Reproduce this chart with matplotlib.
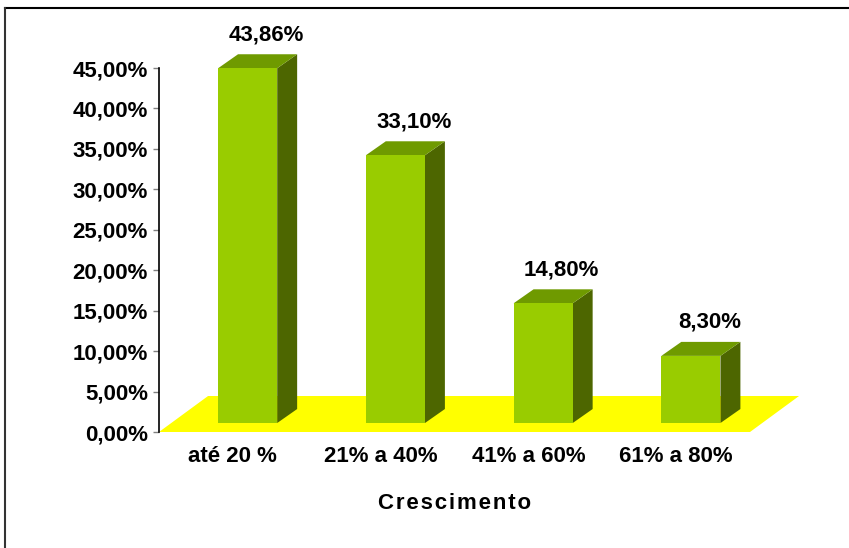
import matplotlib.pyplot as plt
from matplotlib.patches import Polygon
from matplotlib.lines import Line2D

plt.rcParams['font.family'] = ['Liberation Sans', 'DejaVu Sans']
plt.rcParams['font.weight'] = 'bold'

categories = ['até 20 %', '21% a 40%', '41% a 60%', '61% a 80%']
values = [43.86, 33.10, 14.80, 8.30]
value_labels = ['43,86%', '33,10%', '14,80%', '8,30%']
yticks = [0, 5, 10, 15, 20, 25, 30, 35, 40, 45]

W, H = 849, 548
fig = plt.figure(figsize=(W / 100, H / 100), dpi=100)

# plot area in pixels: y axis at x=159, zero at y=432, 45% at y=68
ax_left, ax_right, ax_top, ax_bottom = 159, 750, 68, 432
ax = fig.add_axes([ax_left / W, (H - ax_bottom) / H,
                   (ax_right - ax_left) / W, (ax_bottom - ax_top) / H])
ax.set_xlim(0, len(categories))
ax.set_ylim(0, 45)

# depth offsets of the 3D look (data units)
floor_dx, floor_dy = 0.332, 4.45
bar_dx, bar_dy = 0.135, 1.73
bar_w = 0.40
bar_off = 0.40
bar_base = 1.11

front_c = '#99CC00'
top_c = '#6F9A00'
side_c = '#4D6600'
fs = 16

# yellow floor
n = len(categories)
ax.add_patch(Polygon([(0, 0), (n, 0), (n + floor_dx, floor_dy), (floor_dx, floor_dy)],
                     closed=True, facecolor='#FFFF00', edgecolor='none',
                     clip_on=False, zorder=1))

for i, (v, lab) in enumerate(zip(values, value_labels)):
    x0 = i + bar_off
    x1 = x0 + bar_w
    y0 = bar_base
    y1 = bar_base + v
    # side face
    ax.add_patch(Polygon([(x1, y0), (x1 + bar_dx, y0 + bar_dy),
                          (x1 + bar_dx, y1 + bar_dy), (x1, y1)],
                         closed=True, facecolor=side_c, edgecolor='none',
                         clip_on=False, zorder=2))
    # top face
    ax.add_patch(Polygon([(x0, y1), (x1, y1), (x1 + bar_dx, y1 + bar_dy),
                          (x0 + bar_dx, y1 + bar_dy)],
                         closed=True, facecolor=top_c, edgecolor='none',
                         clip_on=False, zorder=2))
    # front face
    ax.add_patch(Polygon([(x0, y0), (x1, y0), (x1, y1), (x0, y1)],
                         closed=True, facecolor=front_c, edgecolor='none',
                         clip_on=False, zorder=3))
    ax.text(x0 + bar_w / 2 + 0.125, y1 + bar_dy + 2.4, lab,
            ha='center', va='center', fontsize=fs, fontweight='bold',
            clip_on=False, zorder=4)

# axes styling
for s in ['top', 'right', 'bottom']:
    ax.spines[s].set_visible(False)
ax.spines['left'].set_color('black')
ax.spines['left'].set_linewidth(1.2)
ax.set_yticks(yticks)
ax.set_yticklabels([f'{t:.2f}'.replace('.', ',') + '%' for t in yticks])
ax.tick_params(axis='y', direction='out', length=4, width=1, color='#808080',
               pad=4, labelsize=fs)
ax.set_xticks([i + 0.5 for i in range(n)])
ax.set_xticklabels(categories)
ax.tick_params(axis='x', length=0, pad=10, labelsize=fs)
for t in ax.get_xticklabels() + ax.get_yticklabels():
    t.set_fontweight('bold')
ax.set_xlabel('C r e s c i m e n t o'.replace(' ', '\u200a'), fontsize=fs,
              fontweight='bold', labelpad=19)
ax.patch.set_alpha(0)

# chart frame (top and left edges)
fig.add_artist(Line2D([5 / W, 1], [1 - 8 / H, 1 - 8 / H], color='black', lw=1.5))
fig.add_artist(Line2D([5 / W, 5 / W], [0, 1 - 8 / H], color='#333333', lw=1.5))

fig.savefig('out.png', dpi=100)
